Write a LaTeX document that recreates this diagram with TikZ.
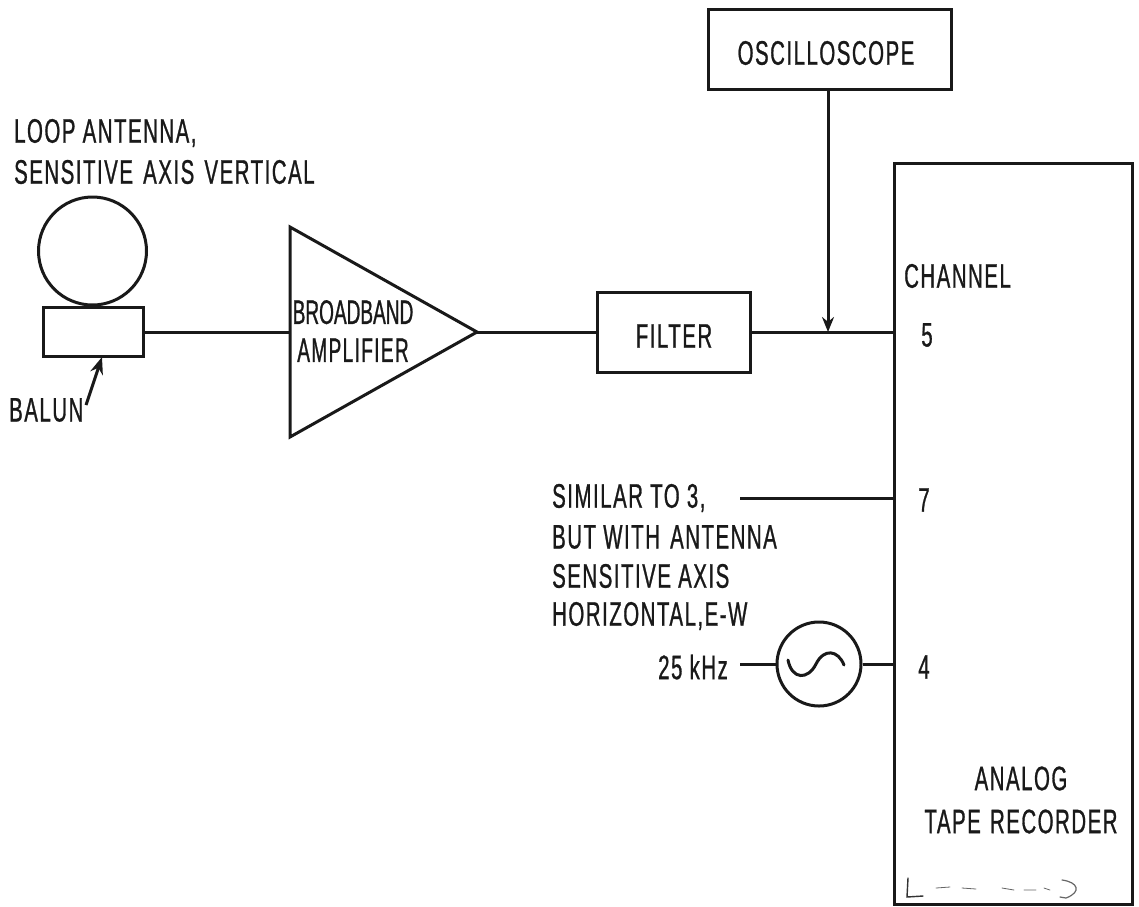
\documentclass[tikz,border=0pt]{standalone}
\usepackage{fontspec}
\setmainfont[FakeStretch=0.6,FakeBold=0.8,LetterSpace=4.5]{Liberation Sans}
\newfontfamily\ampfont[FakeStretch=0.56,FakeBold=0.8]{Liberation Sans}
\newfontfamily\ampfontb[FakeStretch=0.56,FakeBold=0.8,LetterSpace=4]{Liberation Sans}
\tikzset{
  x=1pt,y=-1pt,
  wire/.style={line width=3pt,draw=black!90},
  box/.style={wire,line join=miter},
  lab/.style={font=\fontsize{34}{38}\selectfont,inner sep=0pt,text=black!90},
  speck/.style={line width=0.8pt,draw=black!60,line cap=round}
}
\usetikzlibrary{arrows.meta}
\begin{document}
\begin{tikzpicture}
\useasboundingbox (0,0) rectangle (1139,906);
% blocks
\node[box,draw,minimum width=243pt,minimum height=80pt,inner sep=0pt] (osc) at (829.5,49) {};
\node[lab] (osct) at (826,53) {OSCILLOSCOPE};
\node[box,draw,minimum width=238pt,minimum height=741pt,inner sep=0pt] (rec) at (1013,533.5) {};
\node[box,draw,minimum width=153pt,minimum height=80pt,inner sep=0pt] (filt) at (673.5,332) {};
\node[lab] (filtt) at (674,336) {FILTER};
\node[box,draw,minimum width=100pt,minimum height=49pt,inner sep=0pt] (balun) at (93,331.5) {};
\node[box,draw,circle,minimum size=108pt,inner sep=0pt] (loop) at (92.5,251) {};
\node[box,draw,circle,minimum size=84pt,inner sep=0pt] (gen) at (819,664) {};
\coordinate (a1) at (290,227);
\coordinate (a2) at (477,332);
\coordinate (a3) at (290,437);
\draw[box] (a1) -- (a2) -- (a3) -- cycle;
\node[lab,align=center,font=\ampfont\fontsize{34}{38}\selectfont] (amp) at (353,331) {BROADBAND\\{\ampfontb AMPLIFIER}};
% sine
\draw[wire,line cap=round] (788,660) .. controls (792,680) and (808,680) .. (816,664) .. controls (824,648) and (838,650) .. (844,665);
% wires
\coordinate (ampin) at (290,332);
\coordinate (rec5) at (894,332);
\coordinate (join) at (828,332);
\coordinate (oscb) at (828,89);
\coordinate (baltip) at (102,357);
\coordinate (baltail) at (86,405);
\coordinate (s7) at (740,498);
\coordinate (rec7) at (894,498);
\coordinate (k) at (740,664);
\coordinate (rec4) at (894,664);
\draw[wire] (144,332) -- (ampin);
\draw[wire] (a2) -- (597,332);
\draw[wire] (750,332) -- (rec5);
\draw[wire,-{Stealth[length=15pt,width=12pt]}] (oscb) -- (join);
\draw[wire,-{Stealth[length=17pt,width=13pt]}] (baltail) -- (baltip);
\draw[wire] (s7) -- (rec7);
\draw[wire] (k) -- (gen);
\draw[wire] (gen) -- (rec4);
% labels
\node[lab,anchor=west] (l1) at (14,133) {LOOP ANTENNA,};
\node[lab,anchor=west] (l2) at (14,172) {SENSITIVE\hspace{3pt} AXIS\hspace{3pt} VERTICAL};
\node[lab,anchor=west] (bal) at (9,410) {BALUN};
\node[lab,anchor=west] (ch) at (904,276) {CHANNEL};
\node[lab] (c5) at (927,335) {5};
\node[lab] (c7) at (924,500) {7};
\node[lab] (c4) at (924,667) {4};
\node[lab,anchor=west] (s1) at (552,498) {SIMILAR TO 3,};
\node[lab,anchor=west] (s2) at (552,537) {BUT WITH\hspace{3pt} ANTENNA};
\node[lab,anchor=west] (s3) at (552,576) {SENSITIVE AXIS};
\node[lab,anchor=west] (s4) at (552,616) {HORIZONTAL,E-W};
\node[lab,anchor=west] (khz) at (658,667) {25 kHz};
\node[lab,align=center] (rect) at (1021,800) {ANALOG\\[5pt]TAPE\hspace{2pt} RECORDER};
% faint marks near the bottom of the recorder
\draw[line width=1.4pt,draw=black!80,line cap=round] (908,878) -- (907,897) -- (923,896);
\draw[speck] (936,888) -- (950,887) (962,888) -- (976,889) (1002,888) -- (1014,890) (1024,890) -- (1036,890) (1044,888) -- (1050,890);
\draw[speck,line width=1.2pt] (1062,880) .. controls (1078,882) and (1082,892) .. (1066,898) -- (1060,897);
\end{tikzpicture}
\end{document}
